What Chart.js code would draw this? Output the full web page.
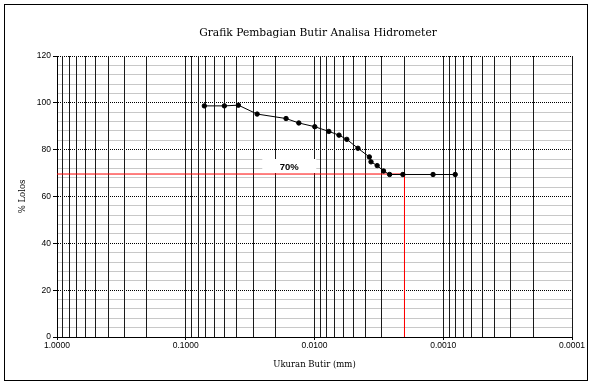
<!DOCTYPE html>
<html>
<head>
<meta charset="utf-8">
<script src="https://cdn.jsdelivr.net/npm/chart.js@4/dist/chart.umd.min.js"></script>
<style>
  html, body { margin: 0; padding: 0; background: #fff; }
  canvas { display: block; }
</style>
</head>
<body>
<canvas id="grafik" width="591" height="383"></canvas>
<script>
// data hidrometer
const ukuranButir = [0.0717, 0.0501, 0.0390, 0.0279, 0.01663, 0.01324, 0.00995, 0.00774, 0.00645,
  0.00561, 0.00460, 0.00375, 0.00364, 0.00326, 0.00291, 0.00261, 0.00206, 0.00120, 0.000807];
const persenLolos = [98.7, 98.7, 99.0, 95.2, 93.3, 91.4, 89.8, 87.8, 86.2,
  84.4, 80.6, 76.9, 74.8, 73.2, 70.9, 69.4, 69.4, 69.4, 69.4];

// garis bantu merah (D pada 70%)
const garisX = [1, 0.002, 0.002];
const garisY = [69.6, 69.6, 0];
const labelGaris = '70%';
const labelPosX = 0.0157;

// sumbu
const desadeNilai = [1, 0.1, 0.01, 0.001, 0.0001];
const desadeLabel = ['1.0000', '0.1000', '0.0100', '0.0010', '0.0001'];
const yTicks = [0, 20, 40, 60, 80, 100, 120];

const judul = 'Grafik Pembagian Butir Analisa Hidrometer';
const judulX = 'Ukuran Butir (mm)';
const judulY = '% Lolos';

// ticks minor log: 1..9 x 10^n
const xTickNilai = [];
for (let e = -4; e < 0; e++) {
  for (let s = 1; s < 10; s++) xTickNilai.push(+(s * Math.pow(10, e)).toPrecision(3));
}
xTickNilai.push(1);

const isDesade = v => desadeNilai.some(d => Math.abs(d - v) / d < 1e-6);

// plugin untuk teks judul, kotak label dan bingkai
const hiasan = {
  id: 'hiasan',
  afterDraw(chart) {
    const ctx = chart.ctx;
    const area = chart.chartArea;
    const sx = chart.scales.x;
    const sy = chart.scales.y;
    ctx.save();
    ctx.fillStyle = '#000';
    ctx.textAlign = 'center';
    ctx.textBaseline = 'middle';
    ctx.font = '10.7px "DejaVu Serif"';
    ctx.fillText(judul, 318, 33);
    ctx.font = '8.5px "DejaVu Serif"';
    ctx.fillText(judulX, (area.left + area.right) / 2, 365);
    ctx.translate(23, (area.top + area.bottom) / 2);
    ctx.rotate(-Math.PI / 2);
    ctx.fillText(judulY, 0, 0);
    ctx.restore();

    // kotak label 70%
    ctx.save();
    const cx = sx.getPixelForValue(labelPosX);
    const cy = sy.getPixelForValue(garisY[0]) - 8;
    ctx.fillStyle = '#fff';
    ctx.fillRect(cx - 27, cy - 7, 54, 14);
    ctx.fillStyle = '#000';
    ctx.font = 'bold 9.5px "Liberation Sans"';
    ctx.textAlign = 'center';
    ctx.textBaseline = 'middle';
    ctx.fillText(labelGaris, cx, cy + 1);
    ctx.restore();

    // bingkai luar
    ctx.save();
    ctx.strokeStyle = '#000';
    ctx.lineWidth = 1;
    ctx.strokeRect(4.5, 4.5, 583, 376);
    ctx.restore();
  }
};

new Chart(document.getElementById('grafik'), {
  type: 'scatter',
  data: {
    datasets: [
      {
        label: 'Garis 70%',
        data: garisX.map((x, i) => ({ x, y: garisY[i] })),
        showLine: true,
        borderColor: '#ff0000',
        borderWidth: 1,
        pointRadius: 0,
        order: 2
      },
      {
        label: 'Hidrometer',
        data: ukuranButir.map((x, i) => ({ x, y: persenLolos[i] })),
        showLine: true,
        borderColor: '#000',
        backgroundColor: '#000',
        borderWidth: 1,
        pointRadius: 2.2,
        pointStyle: 'circle',
        order: 1
      }
    ]
  },
  options: {
    responsive: false,
    devicePixelRatio: 1,
    animation: false,
    layout: { padding: { left: 0, right: 19, top: 56, bottom: 0 } },
    plugins: {
      legend: { display: false },
      tooltip: { enabled: false }
    },
    scales: {
      x: {
        type: 'logarithmic',
        reverse: true,
        min: 0.0001,
        max: 1,
        afterBuildTicks(scale) {
          scale.ticks = xTickNilai.map(v => ({ value: v }));
        },
        afterFit(scale) { scale.height = 46; },
        ticks: {
          autoSkip: false,
          maxRotation: 0,
          padding: 1,
          color: '#000',
          font: { family: 'Liberation Sans', size: 8.5 },
          callback(v) {
            const i = desadeNilai.findIndex(d => Math.abs(d - v) / d < 1e-6);
            return i >= 0 ? desadeLabel[i] : '';
          }
        },
        grid: {
          z: -1,
          color: '#1a1a1a',
          lineWidth: 1,
          tickLength: 3,
          tickColor: ctx => (ctx.tick && isDesade(ctx.tick.value)) ? '#000' : 'rgba(0,0,0,0)'
        },
        border: { color: '#000', width: 1 }
      },
      y: {
        min: 0,
        max: 120,
        afterFit(scale) { scale.width = 57; },
        ticks: {
          stepSize: 4,
          autoSkip: false,
          padding: 2,
          color: '#000',
          font: { family: 'Liberation Sans', size: 8.5 },
          callback: v => yTicks.includes(v) ? String(v) : ''
        },
        grid: {
          z: -2,
          color: ctx => (ctx.tick && ctx.tick.value % 20 === 0) ? '#000' : '#c8c8c8',
          lineWidth: 1,
          tickLength: 4,
          tickColor: ctx => (ctx.tick && ctx.tick.value % 20 === 0) ? '#000' : 'rgba(0,0,0,0)'
        },
        border: {
          color: '#000',
          width: 1,
          dash: ctx => (ctx.tick && ctx.tick.value % 20 === 0 && ctx.tick.value !== 0) ? [1, 1] : []
        }
      }
    }
  },
  plugins: [hiasan]
});
</script>
</body>
</html>
